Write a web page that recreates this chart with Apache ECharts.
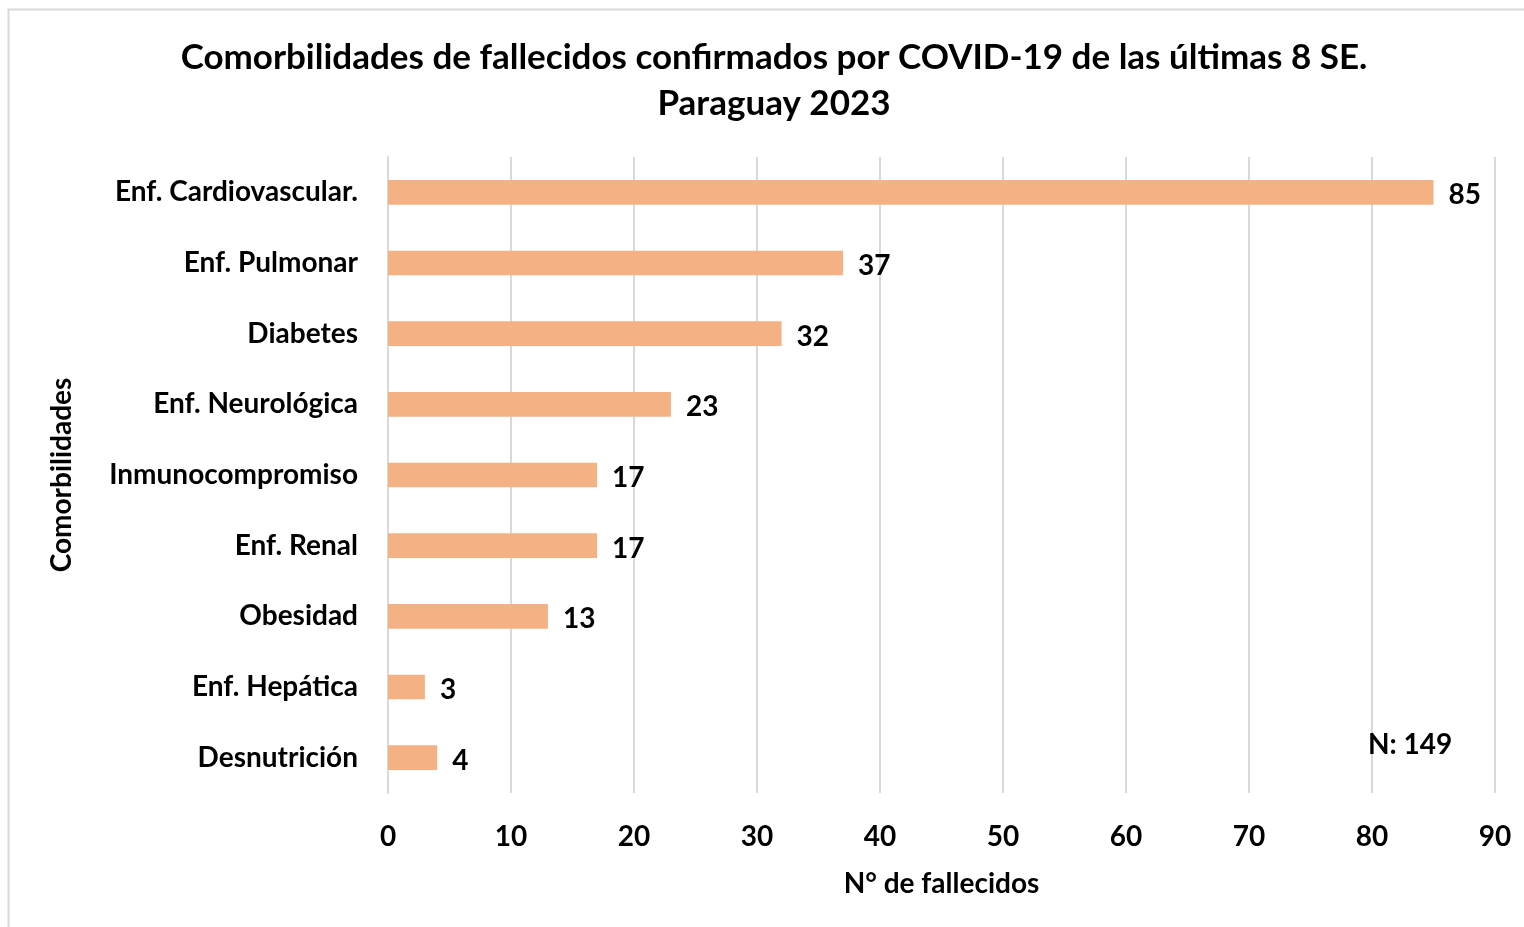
<!DOCTYPE html>
<html>
<head>
<meta charset="utf-8">
<script src="https://cdn.jsdelivr.net/npm/echarts@6/dist/echarts.min.js"></script>
<style>
  html, body { margin: 0; padding: 0; background: #ffffff; }
  #chart { width: 1524px; height: 927px; }
</style>
</head>
<body>
<div id="chart"></div>
<script>
// Comorbidities of confirmed COVID-19 deaths, last 8 epidemiological weeks
const categories = [
  'Enf. Cardiovascular.',
  'Enf. Pulmonar',
  'Diabetes',
  'Enf. Neurológica',
  'Inmunocompromiso',
  'Enf. Renal',
  'Obesidad',
  'Enf. Hepática',
  'Desnutrición'
];
const deaths = [85, 37, 32, 23, 17, 17, 13, 3, 4];
const titleLines = [
  'Comorbilidades de fallecidos confirmados por COVID-19 de las últimas 8 SE.',
  'Paraguay 2023'
];
const totalLabel = 'N: 149';

const FONT = 'Lato';
const chart = echarts.init(document.getElementById('chart'), null, { renderer: 'canvas' });

chart.setOption({
  backgroundColor: '#ffffff',
  animation: false,
  graphic: [
    {
      type: 'rect',
      z: 0,
      shape: { x: 8.5, y: 9.5, width: 1540, height: 940 },
      style: { fill: 'none', stroke: '#d9d9d9', lineWidth: 2 },
      silent: true
    },
    {
      type: 'text',
      z: 100,
      x: 774,
      y: 35,
      style: {
        text: titleLines.join('\n'),
        textAlign: 'center',
        fontFamily: FONT,
        fontWeight: 'bold',
        fontSize: 35,
        lineHeight: 46,
        fill: '#000000'
      }
    },
    {
      type: 'text',
      z: 100,
      x: 1368,
      y: 731,
      style: {
        text: totalLabel,
        fontFamily: FONT,
        fontWeight: 'bold',
        fontSize: 28,
        fill: '#000000'
      }
    }
  ],
  grid: {
    left: 388,
    right: 29,
    top: 157,
    bottom: 134,
    containLabel: false
  },
  xAxis: {
    type: 'value',
    min: 0,
    max: 90,
    interval: 10,
    name: 'N° de fallecidos',
    nameLocation: 'middle',
    nameGap: 77,
    nameTextStyle: { fontFamily: FONT, fontWeight: 'bold', fontSize: 28, color: '#000000' },
    axisLine: { show: false },
    axisTick: { show: false },
    axisLabel: { margin: 30, fontFamily: FONT, fontWeight: 'bold', fontSize: 28, color: '#000000' },
    splitLine: { show: true, lineStyle: { color: '#d9d9d9', width: 2 } }
  },
  yAxis: {
    type: 'category',
    inverse: true,
    data: categories,
    name: 'Comorbilidades',
    nameLocation: 'middle',
    nameGap: 312,
    nameTextStyle: { fontFamily: FONT, fontWeight: 'bold', fontSize: 28, color: '#000000' },
    axisLine: { show: true, lineStyle: { color: '#d9d9d9', width: 2 } },
    axisTick: { show: false },
    axisLabel: { margin: 30, fontFamily: FONT, fontWeight: 'bold', fontSize: 28, color: '#000000' }
  },
  series: [
    {
      type: 'bar',
      data: deaths,
      barWidth: '35%',
      itemStyle: { color: '#F4B183' },
      label: {
        show: true,
        position: 'right',
        distance: 15,
        fontFamily: FONT,
        fontWeight: 'bold',
        fontSize: 28,
        color: '#000000',
        offset: [0, 3]
      }
    }
  ]
});
</script>
</body>
</html>
